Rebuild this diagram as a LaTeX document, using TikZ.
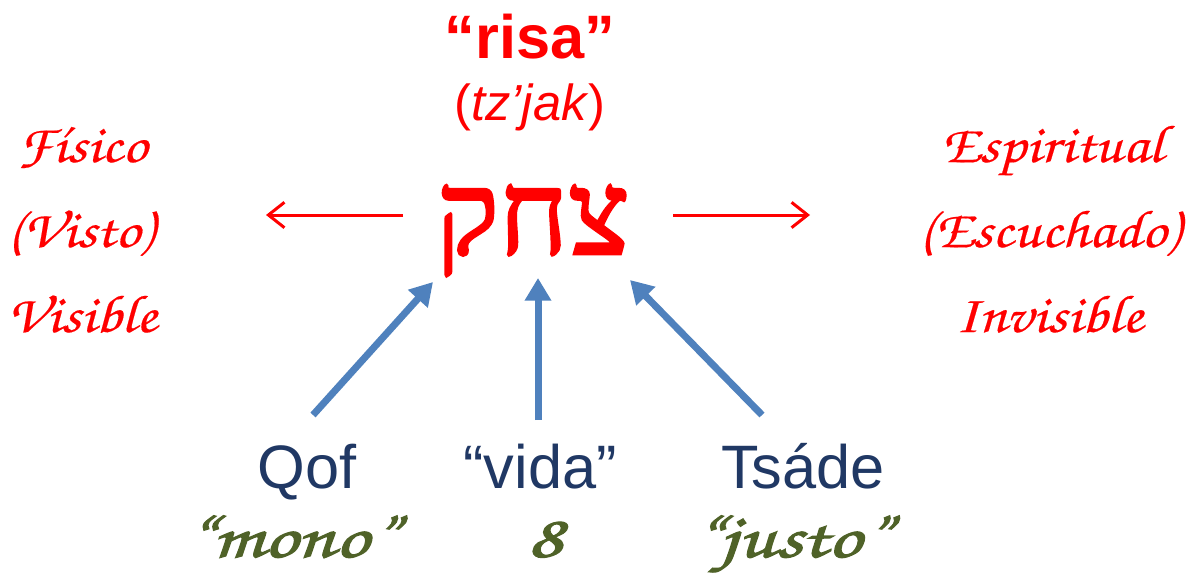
\documentclass[tikz,border=0pt]{standalone}
\usepackage{fontspec}
\setmainfont{Liberation Sans}
\newfontfamily\hebfont[Script=Hebrew,FakeBold=2.2]{Liberation Serif}
\newfontfamily\handfont[FakeStretch=1.15,FakeBold=0.3]{TeX Gyre Chorus}
\newfontfamily\handbold[FakeBold=2.0,FakeStretch=1.35]{TeX Gyre Chorus}
\TeXXeTstate=1
\usetikzlibrary{arrows.meta}
\definecolor{ared}{HTML}{FF0000}
\definecolor{ablue}{HTML}{4F81BD}
\definecolor{tblue}{HTML}{203864}
\definecolor{tgreen}{HTML}{4F6228}
\tikzset{
  hand/.style={text=ared, font=\handfont\fontsize{40}{40}\selectfont, anchor=base, inner sep=0pt},
  lower/.style={text=tblue, font=\fontsize{46}{46}\selectfont, anchor=base, inner sep=0pt},
  green/.style={text=tgreen, font=\handbold\fontsize{46}{46}\selectfont, anchor=base, inner sep=0pt},
  redarrow/.style={draw=ared, line width=2.25pt, -{Straight Barb[length=12pt,width=19pt]}},
  bluearrow/.style={draw=ablue, line width=5.25pt, -{Triangle[length=17pt,width=19pt]}}
}
\begin{document}
\begin{tikzpicture}[x=0.75pt,y=-0.75pt]
\useasboundingbox (0,0) rectangle (1194,574);
% title
\node[text=ared, font=\bfseries\fontsize{46}{46}\selectfont, anchor=base, inner sep=0pt] (risa) at (530,59) {“risa”};
\node[text=ared, font=\fontsize{38}{38}\selectfont, anchor=base, inner sep=0pt] (tz) at (530,121) {(\textit{tz’jak})};
\node[text=ared, font=\hebfont\fontsize{88}{88}\selectfont, anchor=base, inner sep=0pt] (heb) at (533,254) {\beginR צחק\endR};
% red arrows
\coordinate (la) at (403,215);
\coordinate (lb) at (266,215);
\coordinate (ra) at (673,215);
\coordinate (rb) at (810,215);
\draw[redarrow] (la) -- (lb);
\draw[redarrow] (ra) -- (rb);
% side texts
\node[hand] (fis) at (82,162) {Físico};
\node[hand] (vis) at (80,247) {(Visto)};
\node[hand] (visb) at (82,332) {Visible};
\node[hand] (esp) at (1052,162) {Espiritual};
\node[hand] (esc) at (1049,247) {(Escuchado)};
\node[hand] (inv) at (1049,332) {Invisible};
% bottom labels
\node[lower] (qof) at (307,488) {Qof};
\node[lower] (vida) at (540,488) {“vida”};
\node[lower] (tsade) at (803,488) {Tsáde};
\node[green] (mono) at (291,557) {“mono”};
\node[green] (ocho) at (545,557) {8};
\node[green] (justo) at (791,557) {“justo”};
% blue arrows
\coordinate (qa) at (313,415);
\coordinate (qb) at (433,282);
\coordinate (va) at (538,420);
\coordinate (vb) at (538,278);
\coordinate (ta) at (762,415);
\coordinate (tb) at (630,280);
\draw[bluearrow] (qa) -- (qb);
\draw[bluearrow] (va) -- (vb);
\draw[bluearrow] (ta) -- (tb);
\end{tikzpicture}
\end{document}
